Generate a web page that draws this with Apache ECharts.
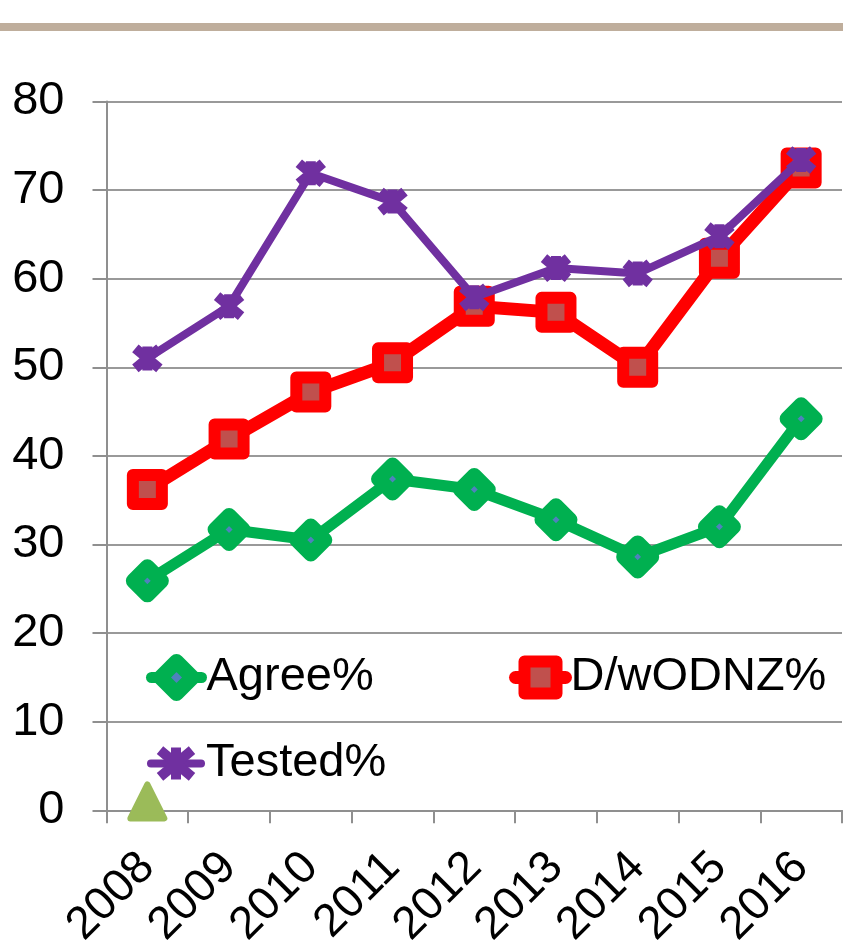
<!DOCTYPE html>
<html>
<head>
<meta charset="utf-8">
<script src="https://cdn.jsdelivr.net/npm/echarts@6/dist/echarts.min.js"></script>
<style>
    html, body { margin: 0; padding: 0; background: #fff; }
    #chart { width: 843px; height: 948px; }
</style>
</head>
<body>
<div id="chart"></div>
<script>
var years = ["2008", "2009", "2010", "2011", "2012", "2013", "2014", "2015", "2016"];
var agree = [25.9, 31.7, 30.5, 37.4, 36.2, 32.8, 28.6, 32.0, 44.2];
var dwodnz = [36.2, 41.9, 47.2, 50.5, 56.9, 56.2, 50.0, 62.3, 72.5];
var tested = [51.0, 56.9, 71.9, 68.7, 57.9, 61.2, 60.6, 64.8, 73.4];
var extra = [1, null, null, null, null, null, null, null, null];
var yTicks = { min: 0, max: 80, step: 10 };

var FONT = "'Liberation Sans', Arial, sans-serif";
var GREY = "#8f8f8f";

// 星形标记：X 加一条竖线
var starPath = "path://M0,0L10,10M10,0L0,10M5,-1L5,11";

var chart = echarts.init(document.getElementById("chart"));

var legendBase = function(name, left, top, w) {
    return {
        data: [name],
        left: left,
        top: top,
        padding: 0,
        orient: "horizontal",
        selectedMode: false,
        itemWidth: w,
        itemHeight: 40,
        itemGap: 0,
        textStyle: { fontFamily: FONT, fontSize: 47, color: "#000" },
        lineStyle: { width: "inherit", cap: "round" },
        itemStyle: { borderWidth: "inherit" }
    };
};

var option = {
    animation: false,
    backgroundColor: "#fff",
    graphic: [{
        type: "rect",
        shape: { x: 0, y: 23, width: 843, height: 8 },
        style: { fill: "#bfae9c" },
        silent: true
    }],
    legend: [
        legendBase("Agree%", 146, 654, 50),
        legendBase("D/wODNZ%", 509, 654, 50),
        legendBase("Tested%", 147, 740, 50)
    ],
    grid: {
        left: 106.5, right: 1, top: 101.5, bottom: 137.7,
        containLabel: false,
        outerBoundsMode: "none"
    },
    xAxis: {
        type: "category",
        data: years,
        boundaryGap: true,
        axisLine: { lineStyle: { color: GREY, width: 2 } },
        axisTick: { show: true, alignWithLabel: false, length: 13, lineStyle: { color: GREY, width: 2 } },
        axisLabel: { rotate: 45, margin: 50, fontFamily: FONT, fontSize: 46, color: "#000", interval: 0 },
        splitLine: { show: false }
    },
    yAxis: {
        type: "value",
        min: yTicks.min,
        max: yTicks.max,
        interval: yTicks.step,
        axisLine: { show: true, lineStyle: { color: GREY, width: 2 } },
        axisTick: { show: true, length: 14, lineStyle: { color: GREY, width: 2 } },
        axisLabel: { margin: 42, fontFamily: FONT, fontSize: 47, color: "#000" },
        splitLine: { show: true, lineStyle: { color: "#999", width: 2 } }
    },
    series: [{
        name: "Agree%",
        type: "line",
        data: agree,
        symbol: "diamond",
        symbolSize: 28,
        lineStyle: { color: "#00b050", width: 11, join: "round" },
        itemStyle: { color: "#4f81bd", borderColor: "#00b050", borderWidth: 15, borderJoin: "round" },
        z: 2
    }, {
        name: "D/wODNZ%",
        type: "line",
        data: dwodnz,
        symbol: "rect",
        symbolSize: 29,
        lineStyle: { color: "#ff0000", width: 13, join: "round" },
        itemStyle: { color: "#c0504d", borderColor: "#ff0000", borderWidth: 12, borderJoin: "round" },
        z: 3
    }, {
        name: "Tested%",
        type: "line",
        data: tested,
        symbol: starPath,
        symbolSize: 24,
        lineStyle: { color: "#7030a0", width: 8, join: "round" },
        itemStyle: { color: "#7030a0", borderColor: "#7030a0", borderWidth: 10 },
        z: 4
    }, {
        name: "",
        type: "line",
        data: extra,
        symbol: "triangle",
        symbolSize: 34,
        lineStyle: { width: 0 },
        itemStyle: { color: "#9bbb59", borderColor: "#9bbb59", borderWidth: 6, borderJoin: "round" },
        z: 1
    }]
};

chart.setOption(option);
</script>
</body>
</html>
